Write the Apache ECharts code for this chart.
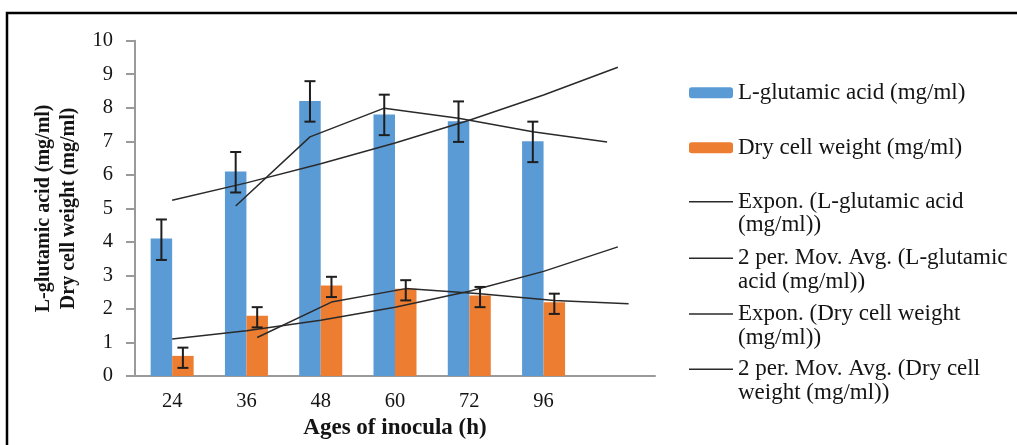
<!DOCTYPE html>
<html>
<head>
<meta charset="utf-8">
<script src="https://cdn.jsdelivr.net/npm/echarts@6/dist/echarts.min.js"></script>
<style>
  html, body { margin: 0; padding: 0; background: #fff; }
  #chart { width: 1017px; height: 445px; }
</style>
</head>
<body>
<div id="chart"></div>
<script>
// Inoculum age (h); the last, unlabelled slot holds the one-period trend forecast
const ages = ['24', '36', '48', '60', '72', '96', ''];

// Measured means and their error-bar half-widths
const glutamic = [4.1, 6.1, 8.2, 7.8, 7.6, 7.0];
const dryWeight = [0.6, 1.8, 2.7, 2.6, 2.4, 2.2];
const glutamicErr = [0.6, 0.6, 0.6, 0.6, 0.6, 0.6];
const dryErr = [0.3, 0.3, 0.3, 0.3, 0.3, 0.3];

// Trend lines
const glutamicExpTrend = [5.24, 5.76, 6.33, 6.95, 7.63, 8.38, 9.21];
const glutamicMovAvg = [null, 5.1, 7.15, 8.0, 7.7, 7.3, 7.0];
const dryExpTrend = [1.10, 1.35, 1.66, 2.05, 2.53, 3.12, 3.85];
const dryMovAvg = [null, 1.2, 2.25, 2.65, 2.5, 2.3, 2.2];

// Value axis ticks
const yMin = 0, yMax = 10, yStep = 1;

const NAME_GLU = 'L-glutamic acid (mg/ml)';
const NAME_DRY = 'Dry cell weight (mg/ml)';
const NAME_GLU_EXP = 'Expon. (L-glutamic acid (mg/ml))';
const NAME_GLU_MA = '2 per. Mov. Avg. (L-glutamic acid (mg/ml))';
const NAME_DRY_EXP = 'Expon. (Dry cell weight (mg/ml))';
const NAME_DRY_MA = '2 per. Mov. Avg. (Dry cell weight (mg/ml))';

const legendText = {};
legendText[NAME_GLU] = NAME_GLU;
legendText[NAME_DRY] = NAME_DRY;
legendText[NAME_GLU_EXP] = 'Expon. (L-glutamic acid\n(mg/ml))';
legendText[NAME_GLU_MA] = '2 per. Mov. Avg. (L-glutamic\nacid (mg/ml))';
legendText[NAME_DRY_EXP] = 'Expon. (Dry cell weight\n(mg/ml))';
legendText[NAME_DRY_MA] = '2 per. Mov. Avg. (Dry cell\nweight (mg/ml))';

const SERIF = '"Liberation Serif", "Times New Roman", serif';
const TEXT = '#141414';
const AXIS = '#9a9a9a';
const TREND = '#2a2a2a';
const BAR_W = 21.5;

// Plot area; two hidden copies shifted by half a bar put marks on bar centres
const plot = { left: 135, top: 40.7, width: 520, height: 337.3 };
const grids = [
  { left: plot.left, top: plot.top, width: plot.width, height: plot.height },
  { left: plot.left - BAR_W / 2, top: plot.top, width: plot.width, height: plot.height },
  { left: plot.left + BAR_W / 2, top: plot.top, width: plot.width, height: plot.height }
];

function hiddenX(i) {
  return { type: 'category', gridIndex: i, data: ages, show: false };
}
function hiddenY(i) {
  return { type: 'value', gridIndex: i, min: yMin, max: yMax, interval: yStep, show: false };
}

function errorBars(params, api) {
  const i = api.value(0), v = api.value(1), e = api.value(2);
  const hi = api.coord([i, v + e]);
  const lo = api.coord([i, v - e]);
  const cap = 5.5;
  const style = { stroke: '#1e1e1e', lineWidth: 2 };
  return {
    type: 'group',
    children: [
      { type: 'line', shape: { x1: hi[0], y1: hi[1], x2: lo[0], y2: lo[1] }, style: style },
      { type: 'line', shape: { x1: hi[0] - cap, y1: hi[1], x2: hi[0] + cap, y2: hi[1] }, style: style },
      { type: 'line', shape: { x1: lo[0] - cap, y1: lo[1], x2: lo[0] + cap, y2: lo[1] }, style: style }
    ]
  };
}

function trend(name, data, gridIndex) {
  return {
    name: name, type: 'line', data: data,
    xAxisIndex: gridIndex, yAxisIndex: gridIndex,
    symbol: 'none', z: 4,
    lineStyle: { color: TREND, width: 1.5 },
    itemStyle: { color: TREND }
  };
}

// One legend block per entry so that every entry sits on its own row.
// Wrapped entries get an empty leading line so their first line lines up with the key.
const legendRows = [
  { name: NAME_GLU, centre: 92.8, bar: true },
  { name: NAME_DRY, centre: 147.8, bar: true },
  { name: NAME_GLU_EXP, centre: 201.7 },
  { name: NAME_GLU_MA, centre: 258.3 },
  { name: NAME_DRY_EXP, centre: 314 },
  { name: NAME_DRY_MA, centre: 369.3 }
];
const LEGEND_FONT = 23, LEGEND_LH = 23.5;
const legends = legendRows.map(function (row) {
  const wrapped = legendText[row.name].indexOf('\n') >= 0;
  const item = { name: row.name };
  if (!row.bar) item.icon = 'path://M0,0L44,0L44,1.5L0,1.5Z';
  return {
    data: [item],
    orient: 'vertical',
    left: 689,
    top: row.centre - (wrapped ? 1.5 : 0.5) * LEGEND_LH,
    padding: 0,
    itemWidth: 44,
    itemHeight: row.bar ? 11 : 1.5,
    itemGap: 4,
    selectedMode: false,
    formatter: function (n) { return (wrapped ? '\n' : '') + legendText[n]; },
    textStyle: { fontFamily: SERIF, fontSize: LEGEND_FONT, lineHeight: LEGEND_LH, color: TEXT }
  };
});

const option = {
  animation: false,
  backgroundColor: '#ffffff',
  grid: grids,
  legend: legends,
  xAxis: [
    {
      type: 'category', gridIndex: 0, data: ages,
      name: 'Ages of inocula (h)', nameLocation: 'middle', nameGap: 41,
      nameTextStyle: { fontFamily: SERIF, fontSize: 23, fontWeight: 'bold', color: TEXT },
      axisLine: { lineStyle: { color: AXIS, width: 2 } },
      axisTick: { show: false },
      axisLabel: { fontFamily: SERIF, fontSize: 20.5, color: TEXT, margin: 15 },
      splitLine: { show: false }
    },
    hiddenX(1), hiddenX(2)
  ],
  yAxis: [
    {
      type: 'value', gridIndex: 0, min: yMin, max: yMax, interval: yStep,
      name: NAME_GLU + '\n' + NAME_DRY, nameLocation: 'middle', nameRotate: 90, nameGap: 53,
      nameTextStyle: { fontFamily: SERIF, fontSize: 20, fontWeight: 'bold', color: TEXT, lineHeight: 25 },
      axisLine: { show: true, lineStyle: { color: AXIS, width: 2 } },
      axisTick: { show: true, length: 9, lineStyle: { color: AXIS, width: 2 } },
      axisLabel: { fontFamily: SERIF, fontSize: 20.5, color: TEXT, margin: 22 },
      splitLine: { show: false }
    },
    hiddenY(1), hiddenY(2)
  ],
  series: [
    {
      name: NAME_GLU, type: 'bar', data: glutamic, barWidth: BAR_W, barGap: '0%',
      xAxisIndex: 0, yAxisIndex: 0, itemStyle: { color: '#5b9bd5' }
    },
    {
      name: NAME_DRY, type: 'bar', data: dryWeight, barWidth: BAR_W, barGap: '0%',
      xAxisIndex: 0, yAxisIndex: 0, itemStyle: { color: '#ed7d31' }
    },
    {
      type: 'custom', xAxisIndex: 1, yAxisIndex: 1, z: 5,
      renderItem: errorBars, encode: { x: 0, y: 1 },
      data: glutamic.map(function (v, i) { return [i, v, glutamicErr[i]]; })
    },
    {
      type: 'custom', xAxisIndex: 2, yAxisIndex: 2, z: 5,
      renderItem: errorBars, encode: { x: 0, y: 1 },
      data: dryWeight.map(function (v, i) { return [i, v, dryErr[i]]; })
    },
    trend(NAME_GLU_EXP, glutamicExpTrend, 0),
    trend(NAME_GLU_MA, glutamicMovAvg, 1),
    trend(NAME_DRY_EXP, dryExpTrend, 0),
    trend(NAME_DRY_MA, dryMovAvg, 2)
  ],
  graphic: [
    {
      type: 'rect', silent: true, z: 100,
      shape: { x: 7, y: 13, width: 1200, height: 700 },
      style: { fill: 'none', stroke: '#000', lineWidth: 2.5 }
    }
  ]
};

const chart = echarts.init(document.getElementById('chart'), null, { renderer: 'canvas' });
chart.setOption(option);
</script>
</body>
</html>
